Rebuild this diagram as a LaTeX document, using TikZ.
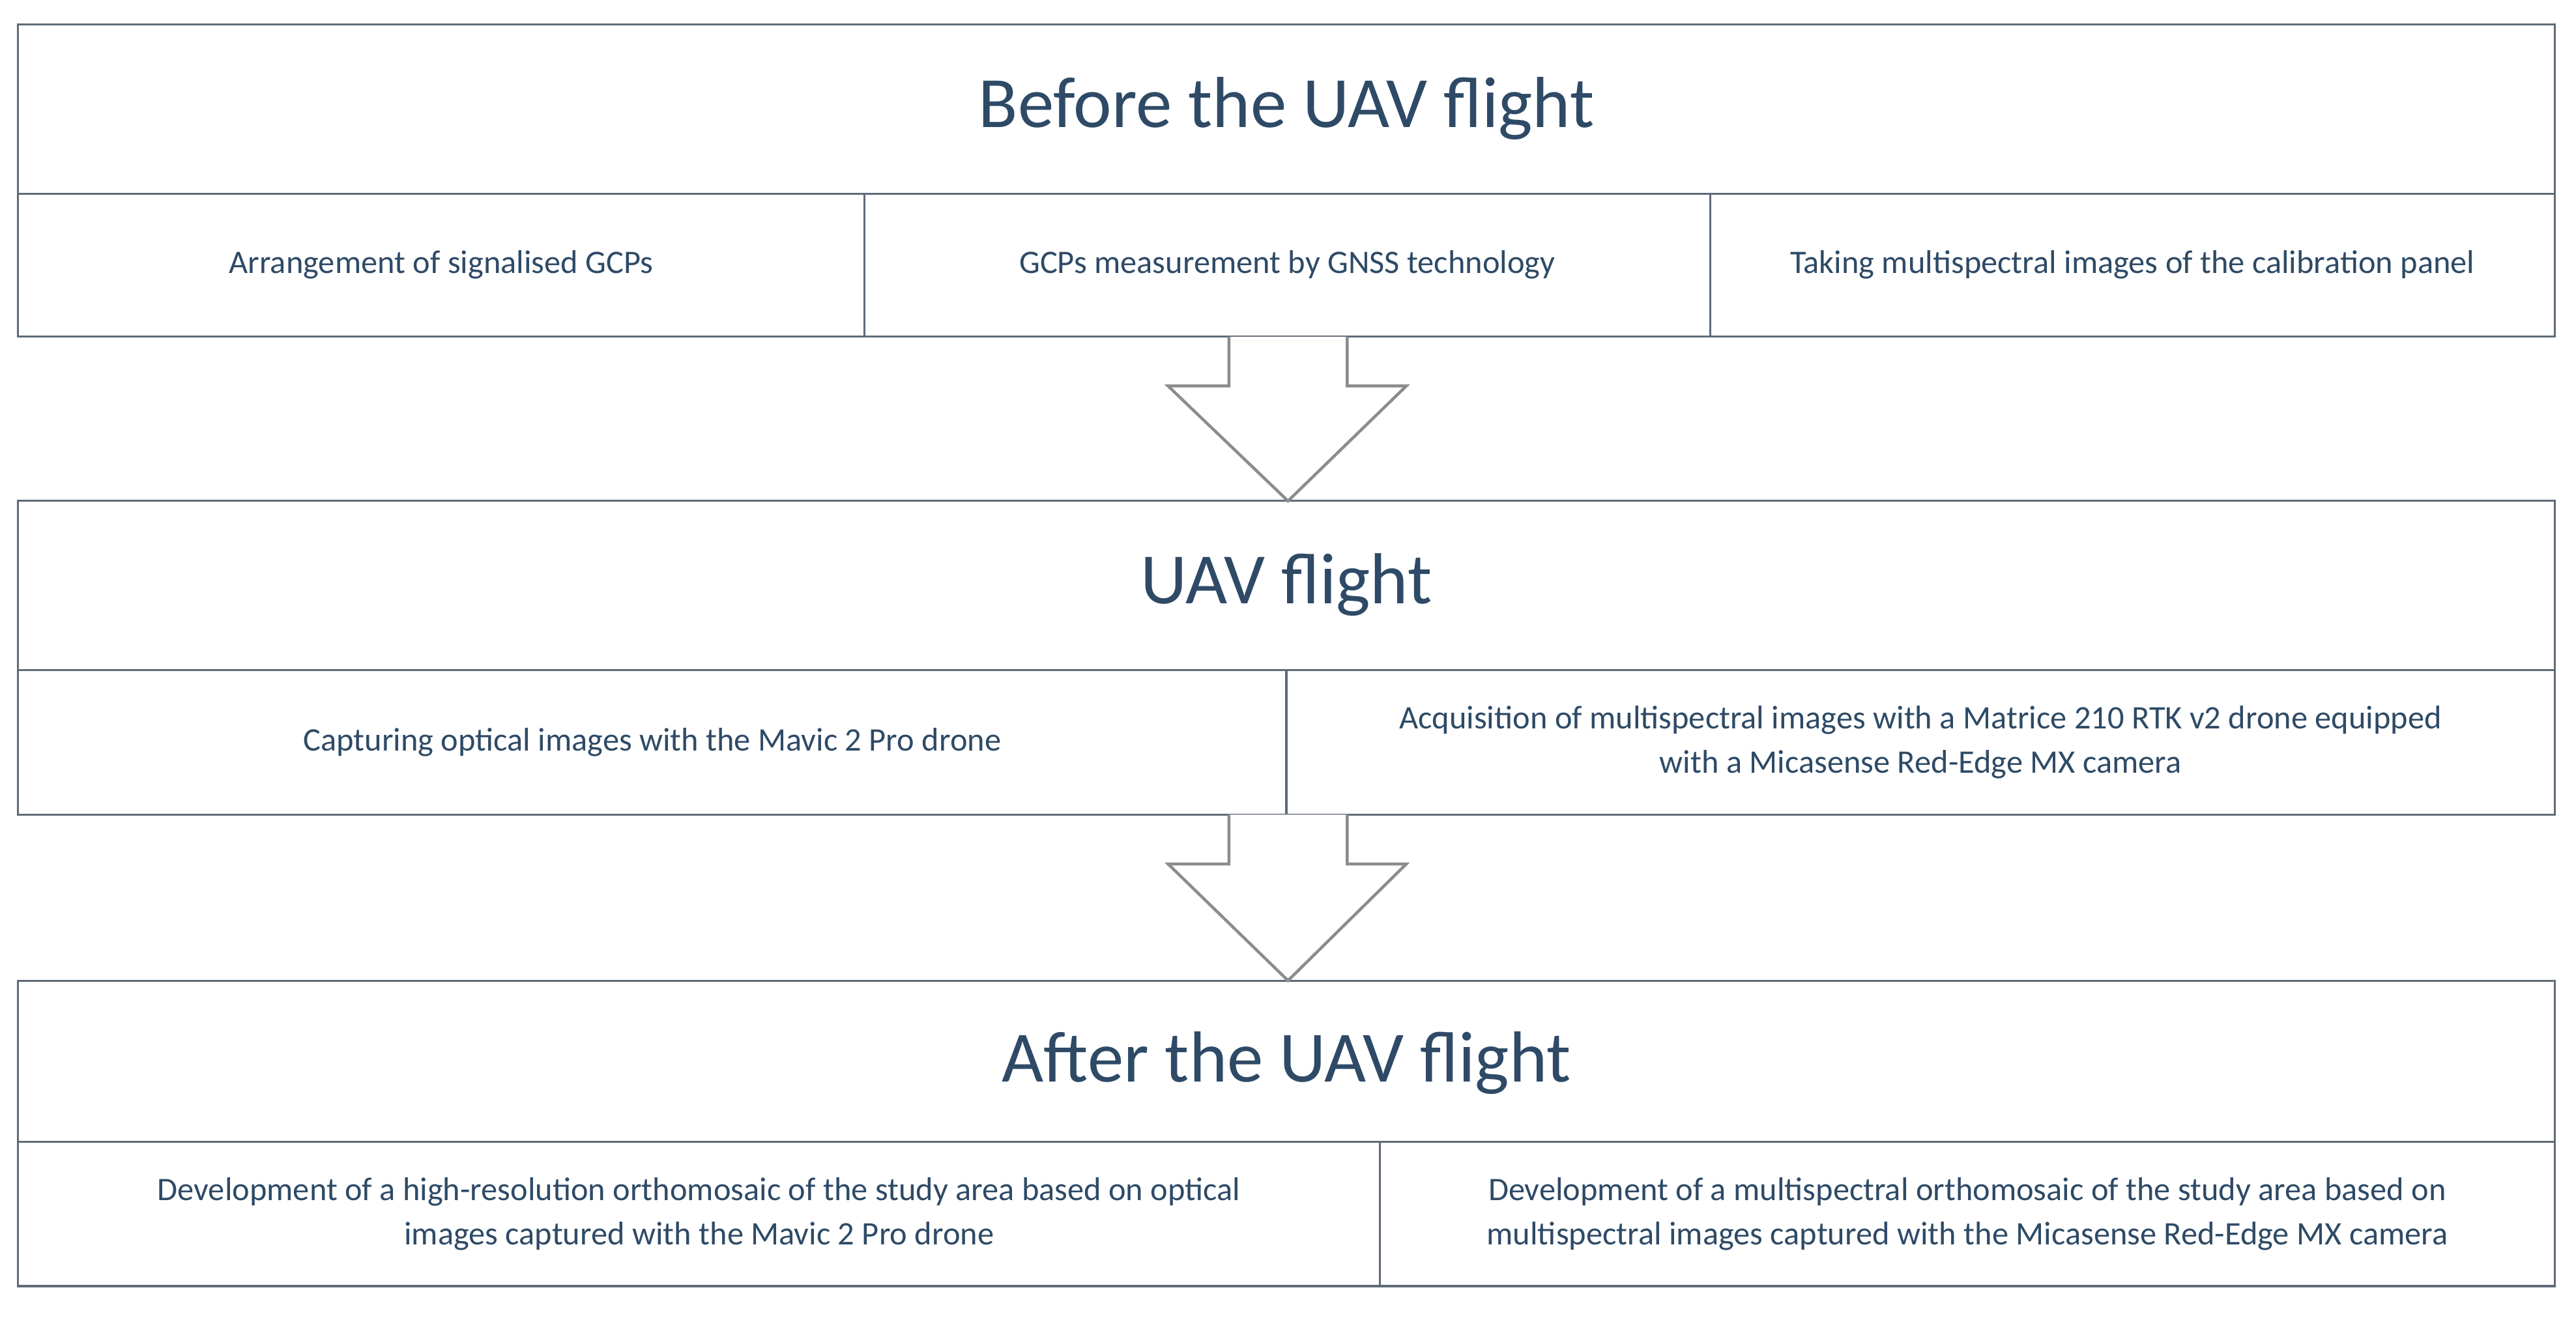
\documentclass[tikz,border=0pt]{standalone}
\usepackage{fontspec}
\setmainfont{Carlito}
\definecolor{txt}{HTML}{2E4A66}
\definecolor{ln}{HTML}{5F6B78}
\definecolor{ar}{HTML}{8C8C8C}
\begin{document}
\begin{tikzpicture}[x=0.5pt,y=-0.5pt,
 box/.style={draw=ln,line width=0.6pt},
 ttl/.style={text=txt,font=\fontsize{22}{26}\selectfont},
 sub/.style={text=txt,font=\fontsize{10}{13.5}\selectfont,align=center},
 arr/.style={draw=ar,line width=0.9pt,fill=white}]
\useasboundingbox (0,0) rectangle (1568,803.6);
% boxes
\draw[box] (11,15) rectangle (1555,205); \draw[box] (11,118) -- (1555,118);
\draw[box] (526,118) -- (526,205); \draw[box] (1041,118) -- (1041,205);
\draw[box] (11,305) rectangle (1555,496); \draw[box] (11,408) -- (1555,408);
\draw[box] (783,408) -- (783,496);
\draw[box] (11,597) rectangle (1555,783); \draw[box] (11,695) -- (1555,695);
\draw[box] (840,695) -- (840,783);
% arrows
\draw[arr] (748,205) -- (748,235) -- (711,235) -- (784,305) -- (856,235) -- (820,235) -- (820,205);
\draw[arr] (748,496) -- (748,526) -- (711,526) -- (784,597) -- (856,526) -- (820,526) -- (820,496);
% texts
\node[ttl] (t1) at (783,66) {Before the UAV flight};
\node[sub] (a1) at (268.5,161) {Arrangement of signalised GCPs};
\node[sub] (a2) at (783.5,161) {GCPs measurement by GNSS technology};
\node[sub] (a3) at (1298,161) {Taking multispectral images of the calibration panel};
\node[ttl] (t2) at (783,356) {UAV flight};
\node[sub] (b1) at (397,452) {Capturing optical images with the Mavic 2 Pro drone};
\node[sub] (b2) at (1169,452) {Acquisition of multispectral images with a Matrice 210 RTK v2 drone equipped\\with a Micasense Red-Edge MX camera};
\node[ttl] (t3) at (783,647) {After the UAV flight};
\node[sub] (c1) at (425.5,739) {Development of a high-resolution orthomosaic of the study area based on optical\\images captured with the Mavic 2 Pro drone};
\node[sub] (c2) at (1197.5,739) {Development of a multispectral orthomosaic of the study area based on\\multispectral images captured with the Micasense Red-Edge MX camera};
\end{tikzpicture}
\end{document}
